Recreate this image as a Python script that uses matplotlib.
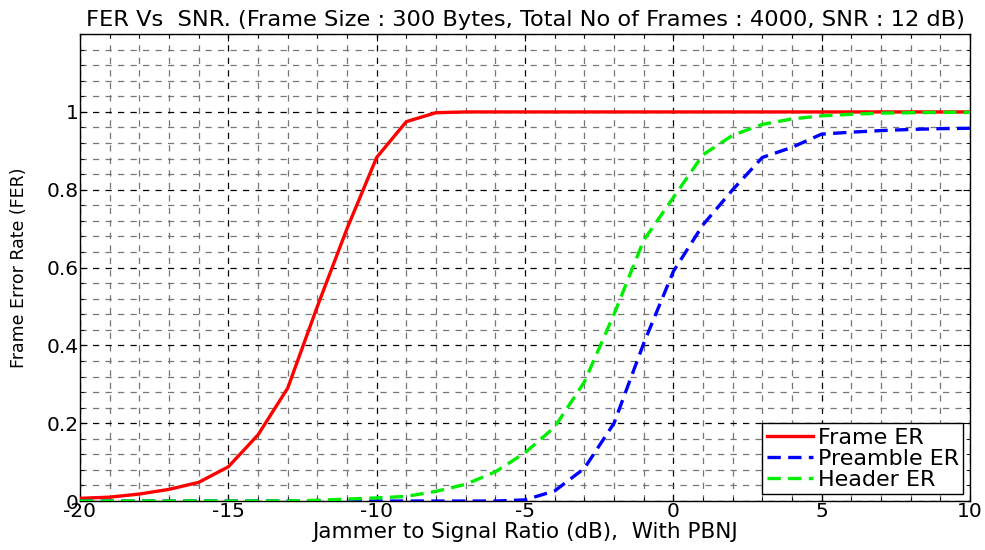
import numpy as np
import matplotlib as mpl
import matplotlib.pyplot as plt
from matplotlib.ticker import MultipleLocator

mpl.rcParams["font.family"] = ["DejaVu Sans"]
mpl.rcParams["axes.unicode_minus"] = False

# Jammer-to-signal ratio (dB)
jsr = list(range(-20, 11))

frame_er = [0.007, 0.01, 0.018, 0.03, 0.048, 0.088, 0.17, 0.29, 0.5, 0.7,
            0.883, 0.975, 0.998, 1.0, 1.0, 1.0, 1.0, 1.0, 1.0, 1.0,
            1.0, 1.0, 1.0, 1.0, 1.0, 1.0, 1.0, 1.0, 1.0, 1.0, 1.0]
preamble_er = [0.0, 0.0, 0.0, 0.0, 0.0, 0.0, 0.0, 0.0, 0.0, 0.0,
               0.0, 0.0, 0.0, 0.0, 0.0, 0.003, 0.026, 0.084, 0.2, 0.405,
               0.59, 0.71, 0.8, 0.883, 0.909, 0.943, 0.948, 0.952, 0.955, 0.957, 0.958]
header_er = [0.0, 0.0, 0.0, 0.0, 0.0, 0.0, 0.0, 0.0, 0.002, 0.005,
             0.008, 0.012, 0.025, 0.043, 0.075, 0.124, 0.19, 0.306, 0.48, 0.67,
             0.78, 0.89, 0.94, 0.968, 0.982, 0.99, 0.994, 0.997, 0.998, 0.999, 0.999]

fig = plt.figure(figsize=(9.85, 5.5), dpi=100)
ax = fig.add_axes([0.0812, 0.089, 0.9036, 0.849])

ax.plot(jsr, frame_er, color="#ff0000", lw=2.4, label="Frame ER", zorder=3)
ax.plot(jsr, preamble_er, color="#0000ff", lw=2.4, dashes=(4, 2.2), label="Preamble ER", zorder=3)
ax.plot(jsr, header_er, color="#00ee00", lw=2.4, dashes=(4, 2.2), label="Header ER", zorder=3)

ax.set_xlim(-20, 10)
ax.set_ylim(0, 1.2)
ax.xaxis.set_major_locator(MultipleLocator(5))
ax.xaxis.set_minor_locator(MultipleLocator(1))
ax.set_yticks([0, 0.2, 0.4, 0.6, 0.8, 1.0])
ax.set_yticklabels(["0", "0.2", "0.4", "0.6", "0.8", "1"])
ax.yaxis.set_minor_locator(MultipleLocator(0.04))

ax.grid(which="major", color="black", lw=0.9, dashes=(5, 5))
ax.grid(which="minor", color="#777777", lw=0.9, dashes=(5, 5))
ax.tick_params(which="both", direction="in", top=True, right=True, labelsize=14.5)
ax.tick_params(which="major", length=5, pad=1)
ax.tick_params(which="minor", length=3)
for s in ax.spines.values():
    s.set_linewidth(1.0)

ax.set_title("FER Vs  SNR. (Frame Size : 300 Bytes, Total No of Frames : 4000, SNR : 12 dB)",
             fontsize=16.2, pad=6)
ax.set_xlabel("Jammer to Signal Ratio (dB),  With PBNJ", fontsize=15.5, labelpad=0.5)
ax.set_ylabel("Frame Error Rate (FER)", fontsize=12.5, labelpad=13)

leg = ax.legend(loc="lower right", fontsize=16, fancybox=False, framealpha=1,
                edgecolor="black", borderpad=0.2, labelspacing=0.05,
                handlelength=2.1, handletextpad=0.2, borderaxespad=0.3)
leg.get_frame().set_linewidth(1.0)

fig.savefig("out.png", dpi=100)
